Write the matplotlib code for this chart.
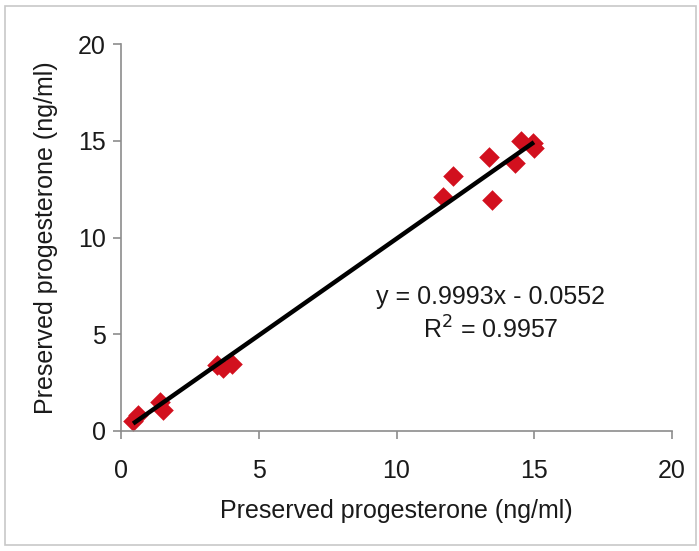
import matplotlib
matplotlib.use("Agg")
import matplotlib.pyplot as plt
from matplotlib.patches import Rectangle
import numpy as np

plt.rcParams['font.family'] = ['Liberation Sans', 'DejaVu Sans']

x_vals = [0.44, 0.62, 1.42, 1.52, 3.48, 3.70, 4.03, 11.69, 12.05, 13.36, 13.47, 14.30, 14.52, 14.95, 14.99]
y_vals = [0.52, 0.83, 1.50, 1.09, 3.41, 3.26, 3.46, 12.09, 13.18, 14.16, 11.94, 13.85, 14.99, 14.88, 14.63]
slope = 0.9993
intercept = -0.0552
r2 = 0.9957
ticks = [0, 5, 10, 15, 20]
label = "Preserved progesterone (ng/ml)"

fig = plt.figure(figsize=(6.99, 5.51), dpi=100)
fig.patches.append(Rectangle((5/699, 6/551), 691/699, 539/551, transform=fig.transFigure,
                             fill=False, edgecolor='#c8c8c8', linewidth=1.2))
ax = fig.add_axes([121/699, 1 - 431/551, (672-121)/699, (431-44)/551])

ax.scatter(x_vals, y_vals, marker='D', s=110, color='#d2101e', zorder=2, linewidths=0)
xl = np.array([min(x_vals), max(x_vals)])
ax.plot(xl, slope * xl + intercept, color='black', linewidth=3.2, zorder=3, solid_capstyle='butt')

ax.set_xlim(0, 20)
ax.set_ylim(0, 20)
ax.set_xticks(ticks)
ax.set_yticks(ticks)
for s in ['top', 'right']:
    ax.spines[s].set_visible(False)
for s in ['left', 'bottom']:
    ax.spines[s].set_color('#8c8c8c')
    ax.spines[s].set_linewidth(1.2)
ax.tick_params(axis='both', colors='#8c8c8c', length=6, width=1.2, labelsize=18,
               labelcolor='#1a1a1a')
ax.tick_params(axis='x', pad=14)
ax.tick_params(axis='y', pad=5)
ax.set_xlabel(label, fontsize=18, color='#1a1a1a', labelpad=12)
ax.set_ylabel(label, fontsize=18, color='#1a1a1a', labelpad=14)

fig.text(491/699, 1 - 297/551, f"y = {slope:.4f}x - {abs(intercept):.4f}", ha='center', va='center',
         fontsize=18, color='#1a1a1a')
fig.text(491/699, 1 - 330/551, f"R$^2$ = {r2:.4f}", ha='center', va='center',
         fontsize=18, color='#1a1a1a')

fig.savefig("out.png", dpi=100)
